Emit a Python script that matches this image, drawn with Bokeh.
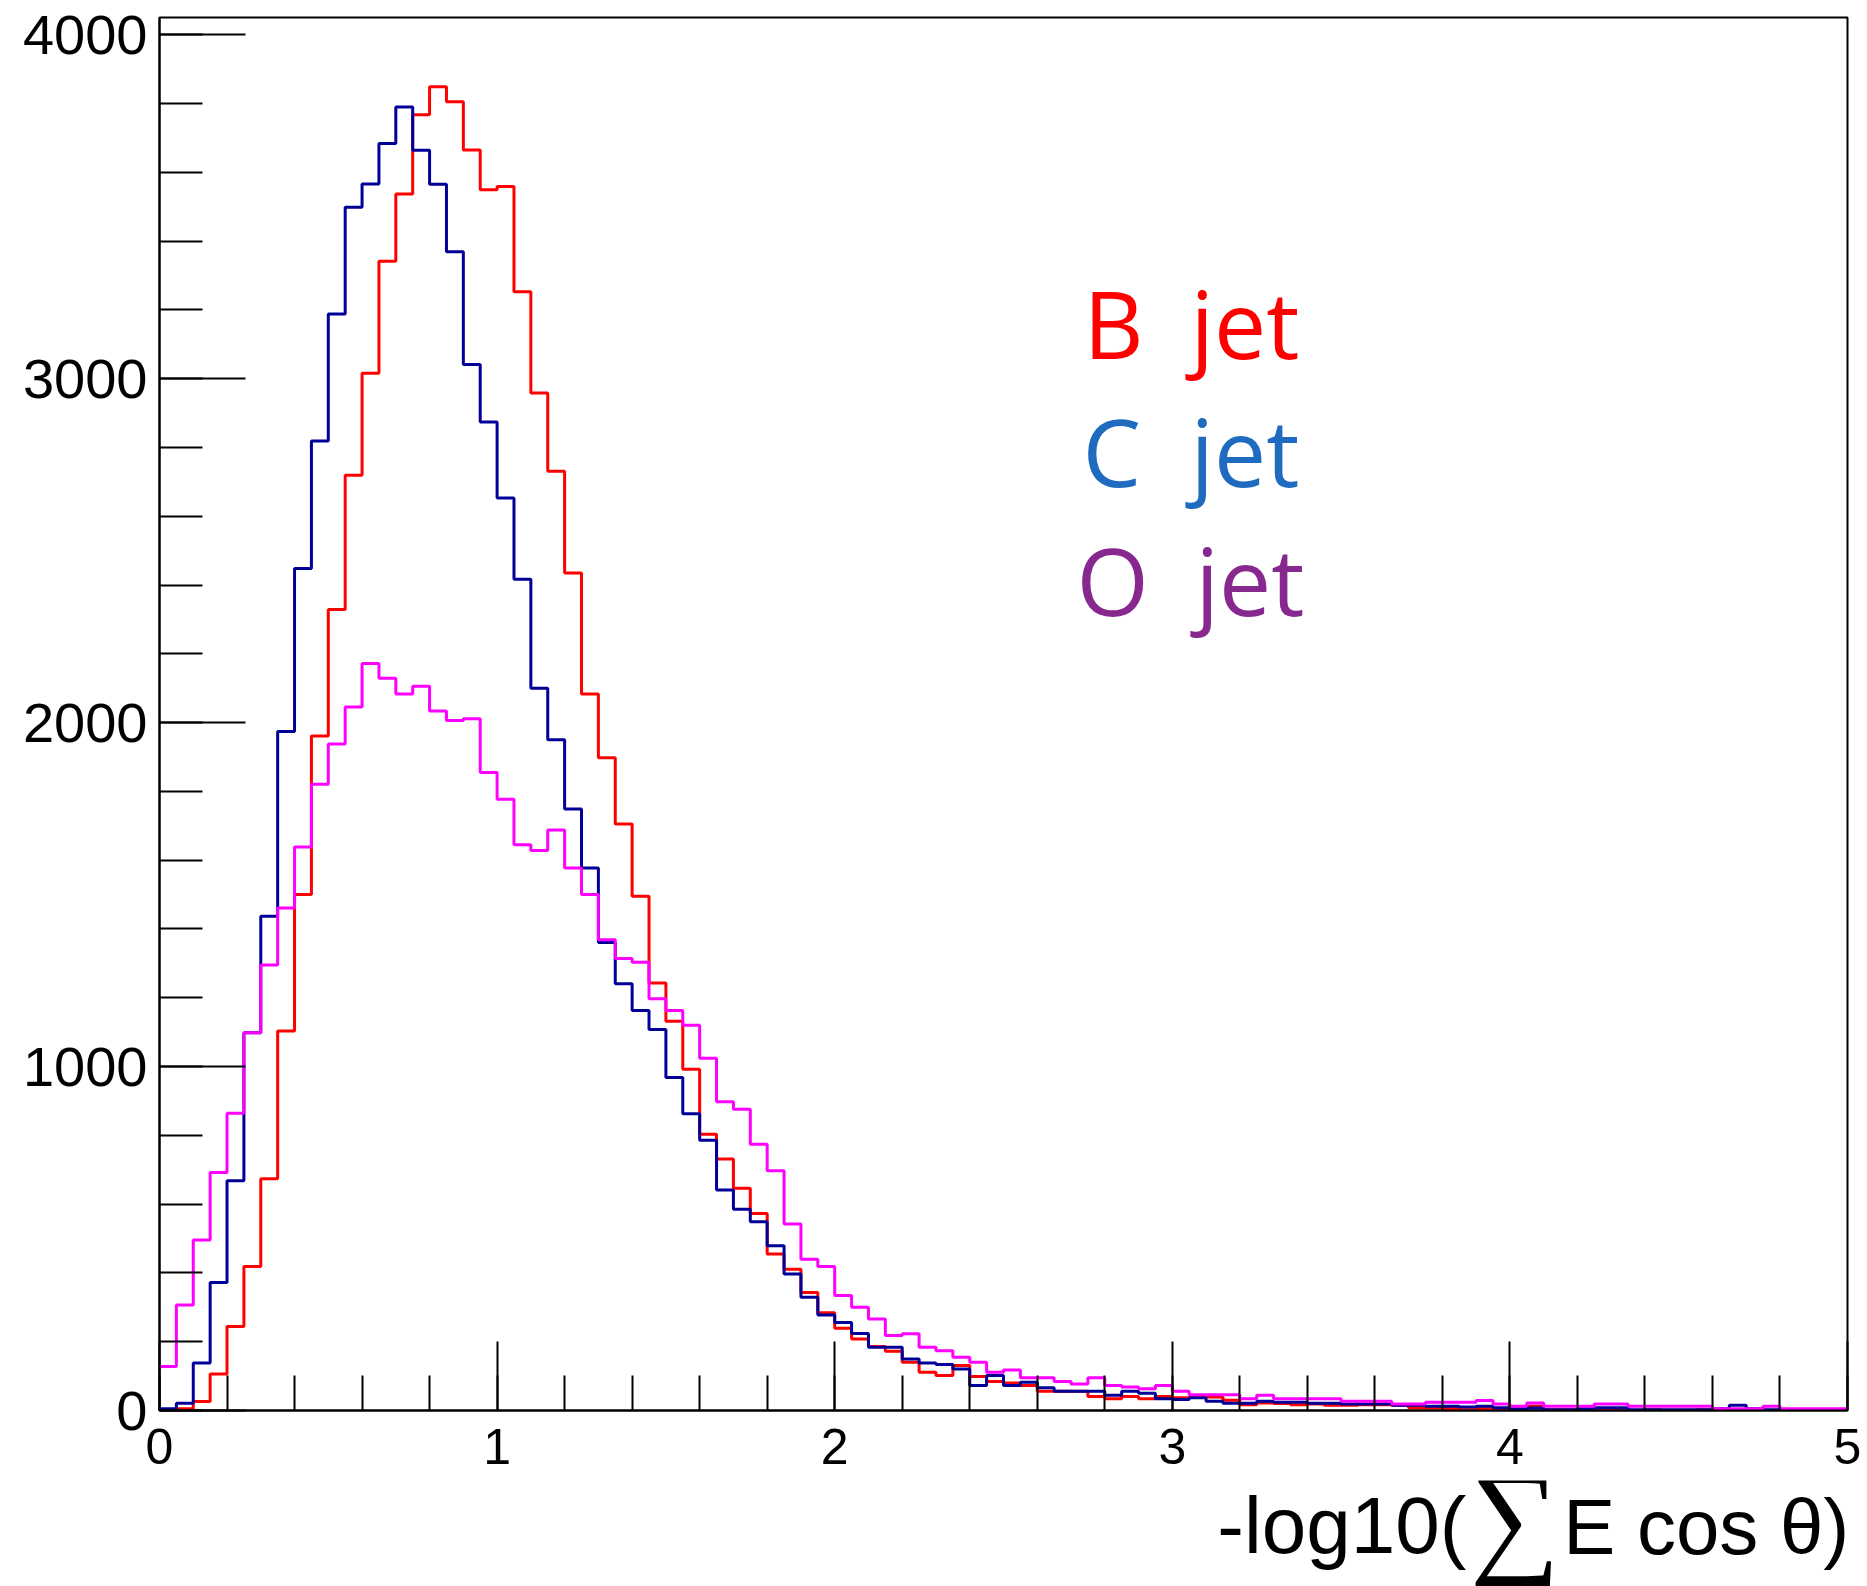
import numpy as np
from bokeh.plotting import figure
from bokeh.layouts import column
from bokeh.models import Range1d, SingleIntervalTicker, Label
from bokeh.embed import file_html
from bokeh.resources import INLINE

# ---------------- data ----------------
x_min, x_max, n_bins = 0.0, 5.0, 100
bin_edges = np.linspace(x_min, x_max, n_bins + 1)

b_jet = [2, 5, 26, 106, 244, 419, 674, 1103, 1500, 1961,
         2329, 2719, 3016, 3341, 3537, 3767, 3849, 3805, 3665, 3549,
         3559, 3253, 2958, 2731, 2435, 2083, 1898, 1705, 1495, 1243,
         1132, 992, 803, 731, 646, 573, 455, 411, 343, 284,
         239, 208, 186, 172, 140, 111, 102, 131, 99, 84,
         80, 73, 56, 56, 56, 41, 34, 41, 34, 41,
         37, 39, 39, 30, 17, 22, 20, 17, 19, 15,
         15, 17, 17, 15, 8, 7, 6, 2, 5, 3,
         3, 12, 2, 2, 2, 3, 2, 1, 2, 1,
         1, 2, 1, 1, 3, 1, 1, 0, 1, 0]

c_jet = [5, 21, 138, 372, 668, 1098, 1437, 1974, 2448, 2819,
         3188, 3498, 3566, 3684, 3790, 3664, 3565, 3369, 3041, 2874,
         2653, 2417, 2100, 1950, 1749, 1577, 1361, 1241, 1163, 1108,
         968, 863, 786, 641, 585, 549, 479, 397, 329, 278,
         256, 224, 184, 184, 150, 138, 134, 121, 73, 102,
         73, 82, 66, 56, 56, 56, 44, 56, 50, 34,
         32, 37, 27, 21, 21, 27, 24, 24, 21, 21,
         19, 19, 19, 15, 15, 12, 12, 10, 12, 8,
         5, 7, 2, 2, 5, 8, 8, 2, 2, 2,
         2, 2, 5, 15, 5, 2, 2, 2, 1, 1]

o_jet = [128, 307, 496, 692, 864, 1098, 1295, 1461, 1638, 1821,
         1938, 2045, 2172, 2129, 2083, 2106, 2034, 2006, 2011, 1855,
         1777, 1645, 1628, 1688, 1577, 1500, 1369, 1314, 1303, 1197,
         1163, 1120, 1024, 898, 876, 774, 697, 542, 440, 419,
         334, 300, 266, 218, 223, 184, 174, 155, 140, 111,
         118, 95, 95, 84, 77, 95, 73, 68, 63, 73,
         56, 46, 46, 46, 34, 44, 34, 34, 34, 34,
         27, 27, 27, 19, 19, 24, 24, 24, 29, 19,
         12, 22, 12, 12, 12, 19, 19, 12, 12, 12,
         12, 12, 5, 5, 5, 12, 5, 5, 5, 5]

series_values = [b_jet, c_jet, o_jet]
series_letters = ["B", "C", "O"]
series_suffix = "jet"
line_colors = ["#ff0000", "#000099", "#ff00ff"]
label_colors = ["#ff0000", "#1f6bbf", "#87288f"]

y_min, y_max = 0, 4050
y_major_interval = 1000
x_major_interval = 1
axis_title_left = "-log10("
axis_title_sigma = "\u2211"
axis_title_right = "E cos \u03b8)"

# ---------------- layout constants (pixels) ----------------
W, H = 1867, 1586
LEFT, RIGHT, TOP = 159, 20, 17
FRAME_W, FRAME_H = 1688, 1393
BOTTOM = 70
H_MAIN = TOP + FRAME_H + BOTTOM
H_BELOW = H - H_MAIN

# ---------------- main plot ----------------
p = figure(frame_width=FRAME_W, frame_height=FRAME_H,
           min_border_left=LEFT, min_border_right=RIGHT,
           min_border_top=TOP, min_border_bottom=BOTTOM,
           x_range=Range1d(x_min, x_max), y_range=Range1d(y_min, y_max),
           output_backend="svg", toolbar_location=None)

p.background_fill_color = "white"
p.border_fill_color = "white"
p.outline_line_color = "black"
p.outline_line_width = 2
p.grid.visible = False

for ax, interval, tin, tmin, fsize, standoff in (
        (p.xaxis[0], x_major_interval, 69, 35, "50px", 18),
        (p.yaxis[0], y_major_interval, 86, 43, "56px", 12)):
    ax.ticker = SingleIntervalTicker(interval=interval, num_minor_ticks=5)
    ax.axis_line_color = "black"
    ax.axis_line_width = 2
    ax.major_tick_in = tin
    ax.major_tick_out = 0
    ax.minor_tick_in = tmin
    ax.minor_tick_out = 0
    ax.major_tick_line_width = 2
    ax.minor_tick_line_width = 2
    ax.major_tick_line_color = "black"
    ax.minor_tick_line_color = "black"
    ax.major_label_text_font = "Liberation Sans"
    ax.major_label_text_font_size = fsize
    ax.major_label_text_color = "black"
    ax.major_label_standoff = standoff

for vals, col in zip(series_values, line_colors):
    yy = list(vals) + [vals[-1]]
    p.step(x=bin_edges, y=yy, mode="after", line_color=col, line_width=3)

# per-series text labels
letter_pos = [(2.737, 3163), (2.734, 2791), (2.716, 2416)]
suffix_x = [3.054, 3.054, 3.069]
for (lx, ly), sx, letter, col in zip(letter_pos, suffix_x, series_letters, label_colors):
    for xx, txt in ((lx, letter), (sx, series_suffix)):
        p.add_layout(Label(x=xx, y=ly, text=txt, text_color=col,
                           text_font="Open Sans", text_font_size="93px",
                           text_baseline="middle", text_align="left"))

# ---------------- strip below: axis title ----------------
p2 = figure(width=W, height=H_BELOW, x_range=p.x_range,
            y_range=Range1d(0, H_BELOW), x_axis_type=None, y_axis_type=None,
            min_border_left=LEFT, min_border_right=RIGHT,
            min_border_top=0, min_border_bottom=0,
            output_backend="svg", toolbar_location=None)
p2.outline_line_color = None
p2.grid.visible = False
p2.background_fill_color = "white"
p2.border_fill_color = "white"

def ys(full_y):
    return H - full_y

p2.add_layout(Label(x=3.871, y=ys(1525), text=axis_title_left, text_color="black",
                    text_font="Liberation Sans", text_font_size="80px",
                    text_align="right", text_baseline="middle"))
p2.add_layout(Label(x=4.014, y=ys(1517), text=axis_title_sigma, text_color="black",
                    text_font="Liberation Serif", text_font_size="126px",
                    text_align="center", text_baseline="middle"))
p2.add_layout(Label(x=4.158, y=ys(1526), text=axis_title_right, text_color="black",
                    text_font="Liberation Sans", text_font_size="78px",
                    text_align="left", text_baseline="middle"))

layout = column(p, p2, spacing=0)
open("out.html", "w").write(file_html(layout, INLINE))
